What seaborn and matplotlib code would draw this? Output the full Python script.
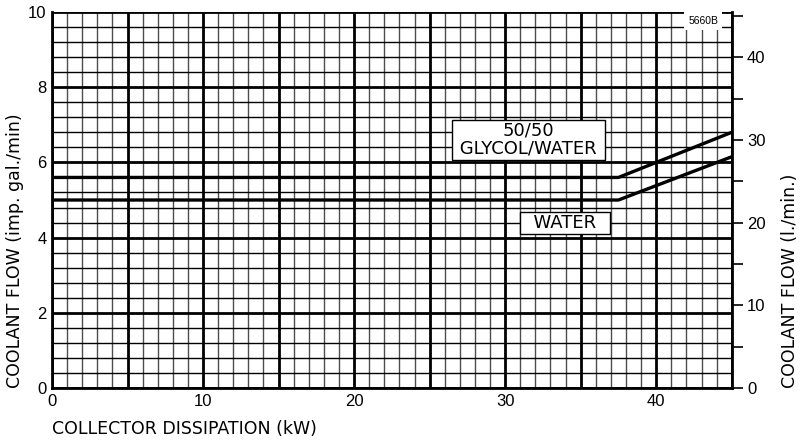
import numpy as np
import pandas as pd
import matplotlib.pyplot as plt
import seaborn as sns

dissipation = [0, 37.5, 45]
water_flow = [5.0, 5.0, 6.15]
glycol_flow = [5.6, 5.6, 6.8]

x_ticks = [0, 10, 20, 30, 40]
y_ticks = [0, 2, 4, 6, 8, 10]
lpm_ticks = [0, 10, 20, 30, 40]
lpm_minor = [5, 15, 25, 35, 45]

df = pd.DataFrame({
    'kW': dissipation * 2,
    'flow': water_flow + glycol_flow,
    'coolant': ['WATER'] * 3 + ['GLYCOL'] * 3
})

sns.set_style("white")
plt.rcParams['font.family'] = ['Liberation Sans', 'DejaVu Sans']
plt.rcParams['text.color'] = 'black'
plt.rcParams['axes.labelcolor'] = 'black'
plt.rcParams['xtick.color'] = 'black'
plt.rcParams['ytick.color'] = 'black'
label_font = ['DejaVu Sans']

fig, ax = plt.subplots(figsize=(8.05, 4.43), dpi=100)
fig.subplots_adjust(left=0.0646, right=0.909, top=0.973, bottom=0.124)

ax.set_xlim(0, 45)
ax.set_ylim(0, 10)

# graph-paper grid: 1 kW / 0.4 gal steps, heavy every 5 kW / 2 gal
for v in np.arange(0, 46, 1):
    if v % 5 == 0:
        ax.axvline(v, color='black', linewidth=2, zorder=0)
    else:
        ax.axvline(v, color='0.3', linewidth=1, zorder=0)
for v in np.arange(0, 10.01, 0.4):
    major = abs(v / 2 - round(v / 2)) < 1e-6
    ax.axhline(v, color='black', linewidth=2 if major else 1, zorder=0)

sns.lineplot(data=df, x='kW', y='flow', units='coolant', estimator=None,
             color='black', linewidth=2.4, ax=ax, legend=False)

ax.set_xticks(x_ticks)
ax.set_yticks(y_ticks)
ax.grid(False)
ax.tick_params(axis='both', length=0, labelsize=12, pad=4, labelcolor='black')
ax.set_xlabel('COLLECTOR DISSIPATION (kW)', fontsize=12.5, family=label_font)
ax.xaxis.set_label_coords(0.0, -0.085)
ax.xaxis.label.set_ha('left')
ax.set_ylabel('COOLANT FLOW (imp. gal./min)', fontsize=12.5, family=label_font)
ax.yaxis.set_label_coords(-0.054, 0.0)
ax.yaxis.label.set_rotation_mode('default')
ax.yaxis.label.set_va('bottom')
ax.yaxis.label.set_ha('center')
ax.spines['top'].set_visible(False)
for side in ['bottom', 'left', 'right']:
    ax.spines[side].set_linewidth(2)
    ax.spines[side].set_color('black')

ax.text(31.54, 6.6, '50/50\n GLYCOL/WATER ', ha='center', va='center', fontsize=13,
        family=label_font, linespacing=1.0,
        bbox=dict(boxstyle='square,pad=0.12', facecolor='white', edgecolor='black', linewidth=1))
ax.text(33.98, 4.39, '  WATER  ', ha='center', va='center', fontsize=13,
        family=label_font,
        bbox=dict(boxstyle='square,pad=0.12', facecolor='white', edgecolor='black', linewidth=1))
ax.text(43.1, 9.76, '5660B', ha='center', va='center', fontsize=7.5,
        bbox=dict(boxstyle='square,pad=0.35', facecolor='white', edgecolor='none'))

ax2 = ax.twinx()
ax2.set_ylim(0, 10 * 4.546)
ax2.set_yticks(lpm_ticks)
ax2.set_yticks(lpm_minor, minor=True)
ax2.tick_params(axis='y', which='both', direction='out', length=8, width=1.2,
                labelsize=12, pad=3, color='black', labelcolor='black')
ax2.set_ylabel('COOLANT FLOW (l./min.)', fontsize=12.5, family=label_font)
ax2.yaxis.set_label_coords(1.085, 0.0)
ax2.yaxis.label.set_rotation_mode('default')
ax2.yaxis.label.set_va('bottom')
ax2.yaxis.label.set_ha('center')
for side in ['top', 'left', 'bottom', 'right']:
    ax2.spines[side].set_visible(False)
ax2.grid(False)

plt.savefig('out.png', dpi=100)
